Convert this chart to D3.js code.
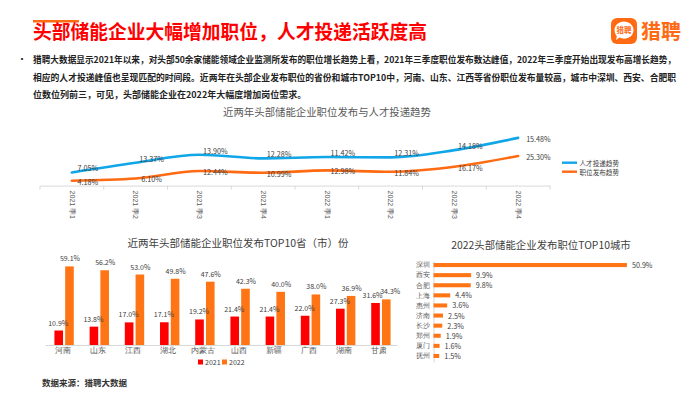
<!DOCTYPE html>
<html><head><meta charset="utf-8">
<script src="https://cdn.jsdelivr.net/npm/d3@7/dist/d3.min.js"></script>
<style>
html,body{margin:0;padding:0;background:#fff;}
svg{display:block;font-family:"Noto Sans CJK SC","Noto Sans",sans-serif;}
</style></head>
<body>
<svg id="c" width="700" height="394"></svg>
<script>
// ---------- data ----------
const pageTitle = "头部储能企业大幅增加职位，人才投递活跃度高";
const paraLines = [
  "猎聘大数据显示2021年以来，对头部50余家储能领域企业监测所发布的职位增长趋势上看，2021年三季度职位发布数达峰值，2022年三季度开始出现发布高增长趋势，",
  "相应的人才投递峰值也呈现匹配的时间段。近两年在头部企业发布职位的省份和城市TOP10中，河南、山东、江西等省份职位发布量较高，城市中深圳、西安、合肥职",
  "位数位列前三，可见，头部储能企业在2022年大幅度增加岗位需求。"
];
const quarters = ["2021 季1","2021 季2","2021 季3","2021 季4","2022 季1","2022 季2","2022 季3","2022 季4"];
const talentTrend = [7.05, 13.37, 13.90, 12.28, 11.42, 12.31, 14.18, 15.48];
const jobTrend = [4.18, 6.10, 12.44, 10.99, 12.98, 11.84, 16.17, 25.30];
const lineSeriesNames = ["人才投递趋势","职位发布趋势"];

const provinces = ["河南","山东","江西","湖北","内蒙古","山西","新疆","广西","湖南","甘肃"];
const prov2021 = [10.9, 13.8, 17.0, 17.1, 19.2, 21.4, 21.4, 22.0, 27.3, 31.6];
const prov2022 = [59.1, 56.2, 53.0, 49.8, 47.6, 42.3, 40.0, 38.0, 36.9, 34.3];
const years = ["2021","2022"];

const cities = ["深圳","西安","合肥","上海","惠州","济南","长沙","郑州","厦门","抚州"];
const cityShare = [50.9, 9.9, 9.8, 4.4, 3.6, 2.5, 2.3, 1.9, 1.6, 1.5];

// ---------- styles ----------
const BLUE = "#10A6E8", ORANGE = "#FF6A12", RED = "#FF0000", BAR_OR = "#FF7414";
const svg = d3.select("#c");

// ---------- header ----------
svg.append("rect").attr("x",33).attr("y",20).attr("width",46).attr("height",2.5).attr("fill","#FF6A12");
svg.append("text").attr("x",33).attr("y",39).attr("font-size",19.5).attr("font-weight","bold")
  .attr("fill","#F00").attr("textLength",394).attr("lengthAdjust","spacingAndGlyphs").text(pageTitle);

// logo
const lg = svg.append("g");
lg.append("rect").attr("x",611).attr("y",18).attr("width",26).attr("height",26).attr("rx",6).attr("fill",ORANGE);
lg.append("path").attr("d","M614.5,30 a9.5,8.5 0 1 1 5,7.6 l-3.5,2.4 l0.8,-3.8 a9.5,8.5 0 0 1 -2.3,-6.2 z").attr("fill","#fff");
lg.append("text").attr("x",624).attr("y",33).attr("text-anchor","middle").attr("font-size",7.5).attr("font-weight","bold").attr("fill",ORANGE).text("猎聘");
lg.append("text").attr("x",641).attr("y",39).attr("font-size",20).attr("font-weight","bold").attr("fill",ORANGE).text("猎聘");

// paragraph
svg.append("text").attr("x",17).attr("y",63).attr("font-size",10).attr("fill","#222").text("•");
const paraY = [63, 80.5, 98];
const paraLen = [643, 643, null];
paraLines.forEach((t,i)=>{
  const tx = svg.append("text").attr("x",33).attr("y",paraY[i]).attr("font-size",9).attr("font-weight","bold").attr("fill","#222").text(t);
  if (paraLen[i]) tx.attr("textLength",paraLen[i]).attr("lengthAdjust","spacingAndGlyphs");
});

// ---------- line chart (stacked) ----------
const lc = svg.append("g");
lc.append("text").attr("x",327).attr("y",115.5).attr("text-anchor","middle").attr("font-size",10.4)
  .attr("fill","#595959").text("近两年头部储能企业职位发布与人才投递趋势");

const xL = d3.scaleBand().domain(quarters).range([40,550]);
const yL = d3.scaleLinear().domain([0,45]).range([185.6, 185.6-45*1.17]);
const rows = quarters.map((q,i)=>({q, job: jobTrend[i], talent: talentTrend[i]}));
const stack = d3.stack().keys(["job","talent"])(rows);

const xAxisL = d3.axisBottom(xL).tickSize(0).tickFormat(d=>d);
const gxl = lc.append("g").attr("transform","translate(0,185.6)").call(xAxisL);
gxl.select(".domain").attr("stroke","#d9d9d9");
gxl.selectAll(".tick text").attr("font-size",7).attr("fill","#595959")
  .attr("text-anchor","start").attr("transform","rotate(90)").attr("x",5).attr("y",0).attr("dy","0.32em");
lc.selectAll("line.bt").data(quarters.concat(["_end"])).join("line")
  .attr("x1",(d,i)=>40+i*xL.step()).attr("x2",(d,i)=>40+i*xL.step())
  .attr("y1",185.6).attr("y2",189.6).attr("stroke","#d9d9d9");

const cx = q => xL(q) + xL.bandwidth()/2;
const lineGen = d3.line().x(d=>cx(d.data.q)).y(d=>yL(d[1])).curve(d3.curveMonotoneX);
const seriesCol = {job: ORANGE, talent: BLUE};
stack.forEach(s=>{
  lc.append("path").datum(s).attr("d",lineGen).attr("fill","none")
    .attr("stroke",seriesCol[s.key]).attr("stroke-width",2.6).attr("stroke-linecap","round");
});
stack.forEach(s=>{
  const n = s.length;
  lc.selectAll("text.l"+s.key).data(s).join("text")
    .attr("x",(d,i)=> i===n-1 ? cx(d.data.q)+8 : cx(d.data.q)+16)
    .attr("y",(d,i)=> i===n-1 ? yL(d[1])+1 : yL(d[1]) + (s.key==="talent" ? -4 : 1))
    .attr("text-anchor",(d,i)=> i===n-1 ? "start" : "middle")
    .attr("dominant-baseline","central")
    .attr("font-size",7.2).attr("fill","#404040")
    .text(d=> d.data[s.key].toFixed(2)+"%");
});
// legend
const legL = [{k:"talent",name:lineSeriesNames[0],y:162.7},{k:"job",name:lineSeriesNames[1],y:171.7}];
legL.forEach(l=>{
  lc.append("line").attr("x1",562).attr("x2",577).attr("y1",l.y).attr("y2",l.y).attr("stroke",seriesCol[l.k]).attr("stroke-width",2.4);
  lc.append("text").attr("x",579.5).attr("y",l.y).attr("dominant-baseline","central").attr("font-size",6.6).attr("fill","#404040").text(l.name);
});

// ---------- province grouped bar chart ----------
const bc = svg.append("g");
bc.append("text").attr("x",238).attr("y",247).attr("text-anchor","middle").attr("font-size",10.5)
  .attr("fill","#404040").text("近两年头部储能企业职位发布TOP10省（市）份");
const x0 = d3.scaleBand().domain(provinces).range([46.5,398.5]).paddingInner(0.45).paddingOuter(0.225);
const x1 = d3.scaleBand().domain(years).range([0,x0.bandwidth()]).paddingInner(0.2);
const yB = d3.scaleLinear().domain([0,70]).range([345,345-70*1.33]);
const provRows = provinces.map((p,i)=>({p, v:{"2021":prov2021[i],"2022":prov2022[i]}}));
const yearCol = {"2021":RED,"2022":BAR_OR};

const gxb = bc.append("g").attr("transform","translate(0,345)")
  .call(d3.axisBottom(d3.scaleBand().domain(provinces).range([45,397])).tickSize(0));
gxb.select(".domain").attr("stroke","#d9d9d9");
gxb.selectAll(".tick text").attr("font-size",7.5).attr("fill","#595959").attr("dy","0.6em").attr("y",3.5);

const grp = bc.selectAll("g.grp").data(provRows).join("g").attr("transform",d=>`translate(${x0(d.p)},0)`);
grp.selectAll("rect").data(d=>years.map(y=>({y, v:d.v[y]}))).join("rect")
  .attr("x",d=>x1(d.y)).attr("width",x1.bandwidth())
  .attr("y",d=>yB(d.v)).attr("height",d=>yB(0)-yB(d.v)).attr("fill",d=>yearCol[d.y]);
// labels, pushed apart when the two labels of a group would collide
grp.selectAll("text").data(d=>{
    const close = Math.abs(yB(d.v["2021"]) - yB(d.v["2022"])) < 9;
    return years.map(y=>({y, v:d.v[y], push: close ? (y==="2021" ? -3 : 4) : (y==="2021" ? -0.5 : 0.5)}));
  }).join("text")
  .attr("x",d=>x1(d.y)+x1.bandwidth()/2 + d.push).attr("y",d=>yB(d.v)-8)
  .attr("text-anchor","middle").attr("dominant-baseline","central")
  .attr("font-size",7).attr("fill","#404040").text(d=>d.v.toFixed(1)+"%");
// legend
const legB = bc.append("g").attr("transform","translate(198,362)");
years.forEach((y,i)=>{
  const gx = i*24;
  legB.append("rect").attr("x",gx).attr("y",-2.5).attr("width",5).attr("height",5).attr("fill",yearCol[y]);
  legB.append("text").attr("x",gx+7).attr("y",0).attr("dominant-baseline","central").attr("font-size",7).attr("fill","#404040").text(y);
});

// source
svg.append("text").attr("x",42).attr("y",386).attr("font-size",8.5).attr("font-weight","bold").attr("fill","#333").text("数据来源：猎聘大数据");

// ---------- city horizontal bar chart ----------
const hc = svg.append("g");
hc.append("text").attr("x",541).attr("y",249).attr("text-anchor","middle").attr("font-size",10.4)
  .attr("fill","#404040").text("2022头部储能企业发布职位TOP10城市");
const yC = d3.scaleBand().domain(cities).range([260,361]).paddingInner(0.6).paddingOuter(0.3);
const xC = d3.scaleLinear().domain([0,55]).range([433.5,433.5+55*3.8]);
const gyc = hc.append("g").attr("transform","translate(433.5,0)")
  .call(d3.axisLeft(d3.scaleBand().domain(cities).range([261,362])).tickSize(0));
gyc.select(".domain").attr("stroke","#d9d9d9");
gyc.selectAll(".tick text").attr("font-size",7).attr("fill","#595959").attr("x",-4);
gyc.selectAll(".tick").attr("transform",d=>`translate(0,${yC(d)+yC.bandwidth()/2})`);
hc.selectAll("rect.cb").data(cities).join("rect").attr("class","cb")
  .attr("x",xC(0)).attr("y",d=>yC(d)).attr("height",yC.bandwidth())
  .attr("width",(d,i)=>xC(cityShare[i])-xC(0)).attr("fill",BAR_OR);
hc.selectAll("text.cl").data(cities).join("text").attr("class","cl")
  .attr("x",(d,i)=>xC(cityShare[i])+5).attr("y",d=>yC(d)+yC.bandwidth()/2)
  .attr("dominant-baseline","central").attr("font-size",7.2).attr("fill","#404040")
  .text((d,i)=>cityShare[i].toFixed(1)+"%");
</script>
</body></html>
